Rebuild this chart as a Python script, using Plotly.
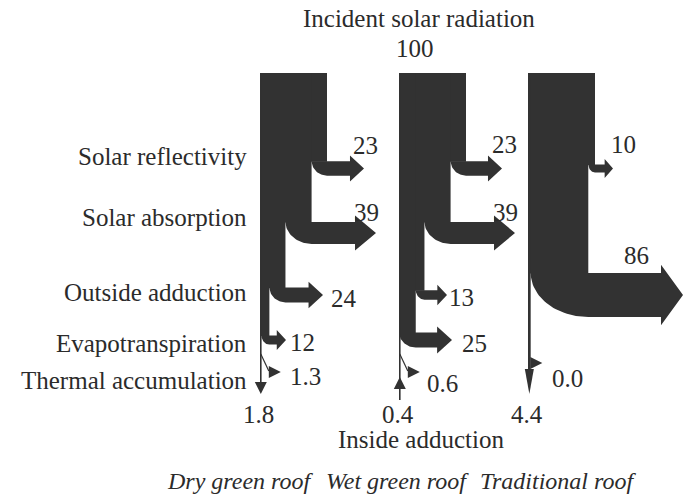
import numpy as np
import plotly.graph_objects as go

# ---------------- data ----------------
categories = ["Dry green roof", "Wet green roof", "Traditional roof"]
incident = [100, 100, 100]
reflectivity = [23, 23, 10]
absorption = [39, 39, None]
outside_adduction = [24, 13, 86]
evapotranspiration = [12, 25, None]
thermal_accumulation = [1.3, 0.6, 0.0]
inside_adduction = [1.8, 0.4, 4.4]
inside_direction = ["out", "in", "out"]
row_labels = ["Solar reflectivity", "Solar absorption", "Outside adduction",
              "Evapotranspiration", "Thermal accumulation"]

# ---------------- layout (pixel-space drawing canvas) ----------------
W, H = 685, 499
PX = 0.67                      # pixels per energy unit
col_left = [260, 399, 528]
top_y = 73
row_y = [168.5, 233, 295, 340]           # centre line of each branch row
row_label_y = [156, 217, 292, 343, 380]
reach = [[104, 116, 63, 26], [103, 116, 48, 53], [85, None, 155, None]]
# label offsets from arrow tip (dx, dy)
lab_off = [[(1, -23.5), (-10, -21), (21, 3), (16, 2)],
           [(2, -24), (-10, -21), (14, 2), (22, 3)],
           [(10, -24), None, (-47, -40), None]]
thermal_y = [372, 372, 363]
thermal_lab = [(25, 4), (23, 11), (25, 15)]
bottom_head_len = [12, 12, 25]
bottom_head_hw = [6, 6, 4.5]
bottom_lab_y = 414
roof_x = [240, 397, 558]
FILL = "#323232"
TXT = "#2b2b2b"
FONT = "Liberation Serif"
FS = 25

fig = go.Figure()


def poly(xs, ys):
    xs = list(xs) + [xs[0]]
    ys = list(ys) + [ys[0]]
    fig.add_trace(go.Scatter(x=xs, y=ys, mode="lines", fill="toself",
                             fillcolor=FILL, line=dict(width=0, color=FILL),
                             hoverinfo="skip", showlegend=False))


def line(xs, ys, w=1.5):
    fig.add_trace(go.Scatter(x=xs, y=ys, mode="lines",
                             line=dict(width=w, color=FILL),
                             hoverinfo="skip", showlegend=False))


def text(x, y, s, anchor="center", italic=False, size=FS):
    fig.add_annotation(x=x, y=y, xref="x", yref="y", text=s, showarrow=False,
                       xanchor=anchor, yanchor="middle",
                       font=dict(family=FONT, size=size, color=TXT,
                                 style="italic" if italic else "normal"))


for i in range(3):
    xl = col_left[i]
    xr = xl + incident[i] * PX
    remaining = incident[i]
    flows = [reflectivity[i], absorption[i], outside_adduction[i], evapotranspiration[i]]
    for k, v in enumerate(flows):
        if v is None:
            continue
        w = v * PX
        xo = xr - w
        t = 0.7 * w + 3.5
        yc = row_y[k]
        yt, yb = yc - t / 2, yc + t / 2
        Ry = 0.7 * w + 4
        Rx = w
        hh = t / 2 + 5 + 0.06 * w
        hl = min(4 + 0.65 * w, 22)
        tip = xl + reach[i][k]
        xb = tip - hl
        # trunk section above this branch
        poly([xl, xr, xr, xl], [top_y, top_y, yt + 0.5, yt + 0.5])
        # branch with bend and arrow head
        phi = np.linspace(0, np.pi / 2, 30)
        arc_x = xr - Rx * np.sin(phi)
        arc_y = (yb - Ry) + Ry * np.cos(phi)
        px = [xo, xb, xb, tip, xb, xb] + list(arc_x)
        py = [yt, yt, yc - hh, yc, yc + hh, yb] + list(arc_y)
        poly(px, py)
        dx, dy = lab_off[i][k]
        text(tip + dx, yc + dy, f"{v:g}")
        xr = xo
        remaining -= v

    # remaining thin trunk line with inside adduction arrow
    lw = max(remaining * PX, 1.6)
    lx = xl + lw / 2
    hlen, hw = bottom_head_len[i], bottom_head_hw[i]
    if inside_direction[i] == "out":
        tip_y = 394
        line([lx, lx], [top_y + 5, tip_y - hlen + 2], w=lw)
        poly([lx - hw, lx + hw, lx], [tip_y - hlen, tip_y - hlen, tip_y])
    else:
        line([lx, lx], [top_y + 5, 400], w=lw)
        poly([lx - hw, lx + hw, lx], [377 + hlen, 377 + hlen, 377])
    text(lx - 2, bottom_lab_y, f"{inside_adduction[i]:.1f}")

    # thermal accumulation flag
    ty = thermal_y[i]
    if thermal_accumulation[i] > 0:
        line([lx, lx + 8], [ty - 18, ty - 1], w=1.2)
        base = lx + 8
    else:
        base = lx + 1
    tip = base + 12
    poly([base, base, tip], [ty - 6, ty + 6, ty])
    dx, dy = thermal_lab[i]
    text(tip + dx, ty + dy, f"{thermal_accumulation[i]:.1f}")

    # roof name
    text(roof_x[i], 481, categories[i], italic=True, size=24)

for lab, y in zip(row_labels, row_label_y):
    text(249, y, lab, anchor="right")

text(419, 18, "Incident solar radiation")
text(415, 48, f"{incident[0]:g}")
text(421, 439, "Inside adduction")

fig.update_layout(
    width=W, height=H, margin=dict(l=0, r=0, t=0, b=0),
    paper_bgcolor="white", plot_bgcolor="white",
    xaxis=dict(range=[0, W], visible=False, fixedrange=True),
    yaxis=dict(range=[H, 0], visible=False, fixedrange=True),
    showlegend=False,
)
fig.write_html("out.html",
               config={"displayModeBar": False},
               post_script="document.body.style.margin='0';"
                           "document.body.style.overflow='hidden';")
